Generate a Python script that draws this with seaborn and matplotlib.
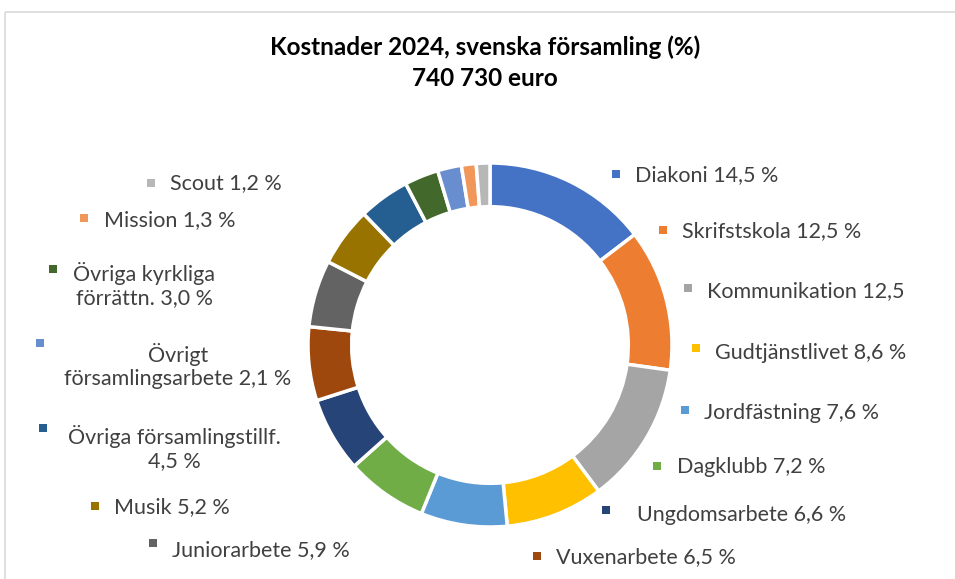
import matplotlib
matplotlib.use("Agg")
import matplotlib.pyplot as plt
import seaborn as sns
from matplotlib.patches import Rectangle

# ========== DATA ==========
categories = ["Diakoni", "Skrifstskola", "Kommunikation", "Gudtjänstlivet",
              "Jordfästning", "Dagklubb", "Ungdomsarbete", "Vuxenarbete",
              "Juniorarbete", "Musik", "Övriga församlingstillf.",
              "Övriga kyrkliga förrättn.", "Övrigt församlingsarbete",
              "Mission", "Scout"]
values = [14.5, 12.5, 12.5, 8.6, 7.6, 7.2, 6.6, 6.5, 5.9, 5.2, 4.5, 3.0, 2.1, 1.3, 1.2]
label_texts = ["Diakoni 14,5 %", "Skrifstskola 12,5 %", "Kommunikation 12,5",
               "Gudtjänstlivet 8,6 %", "Jordfästning 7,6 %", "Dagklubb 7,2 %",
               "Ungdomsarbete 6,6 %", "Vuxenarbete 6,5 %", "Juniorarbete 5,9 %",
               "Musik 5,2 %", "Övriga församlingstillf.\n4,5 %",
               "Övriga kyrkliga\nförrättn. 3,0 %", "Övrigt\nförsamlingsarbete 2,1 %",
               "Mission 1,3 %", "Scout 1,2 %"]
colors = ["#4472C4", "#ED7D31", "#A5A5A5", "#FFC000", "#5B9BD5", "#70AD47",
          "#264478", "#9E480E", "#636363", "#997300", "#255E91", "#43682B",
          "#698ED0", "#F1975A", "#B7B7B7"]
title_lines = ["Kostnader 2024, svenska församling (%)", "740 730 euro"]

# label layout in pixels (marker x, marker y, text x, text y, align)
label_pos = [
    (616, 174, 635, 175, "left"), (663, 230, 682, 231, "left"),
    (688, 288, 707, 291, "left"), (696, 348, 715, 353, "left"),
    (685, 410, 704, 413, "left"), (657, 466, 677, 467, "left"),
    (606, 510, 637, 515, "left"), (537, 556, 556, 557, "left"),
    (153, 543, 172, 550, "left"), (95, 506, 114, 507, "left"),
    (43, 428, 174, 448, "center"), (53, 269, 144, 285, "center"),
    (40, 343, 178, 366, "center"), (84, 218, 104, 220, "left"),
    (151, 183, 170, 183, "left"),
]

# ========== PLOT ==========
W, H = 955, 579
sns.set_theme(style="white")
plt.rcParams["font.family"] = ["Lato", "DejaVu Sans"]

fig = plt.figure(figsize=(W / 100, H / 100), dpi=100)
fig.patch.set_facecolor("white")

# frame of the chart area
bg = fig.add_axes([0, 0, 1, 1])
bg.set_xlim(0, W)
bg.set_ylim(H, 0)
bg.axis("off")
bg.add_patch(Rectangle((5, 12), W, H, fill=False, edgecolor="#D9D9D9", lw=1.2))

cx, cy, r = 490, 345, 182
ax = fig.add_axes([(cx - r) / W, (H - cy - r) / H, 2 * r / W, 2 * r / H])
ax.pie(values, colors=colors, startangle=90, counterclock=False, radius=1,
       wedgeprops=dict(width=0.24, edgecolor="white", linewidth=2.5))
ax.set_xlim(-1, 1)
ax.set_ylim(-1, 1)
ax.set_aspect("equal")

for (mx, my, tx, ty, ha), txt, c in zip(label_pos, label_texts, colors):
    bg.scatter(mx, my, marker="s", s=28, color=c, linewidths=0)
    bg.text(tx, ty, txt, ha=ha, va="center", fontsize=15.5, color="#404040",
            linespacing=1.2, multialignment="center")

for ty, line in zip([47, 78], title_lines):
    bg.text(485, ty, line, ha="center", va="center", fontsize=17.5,
            fontweight="bold", color="black")

fig.savefig("out.png", dpi=100)
